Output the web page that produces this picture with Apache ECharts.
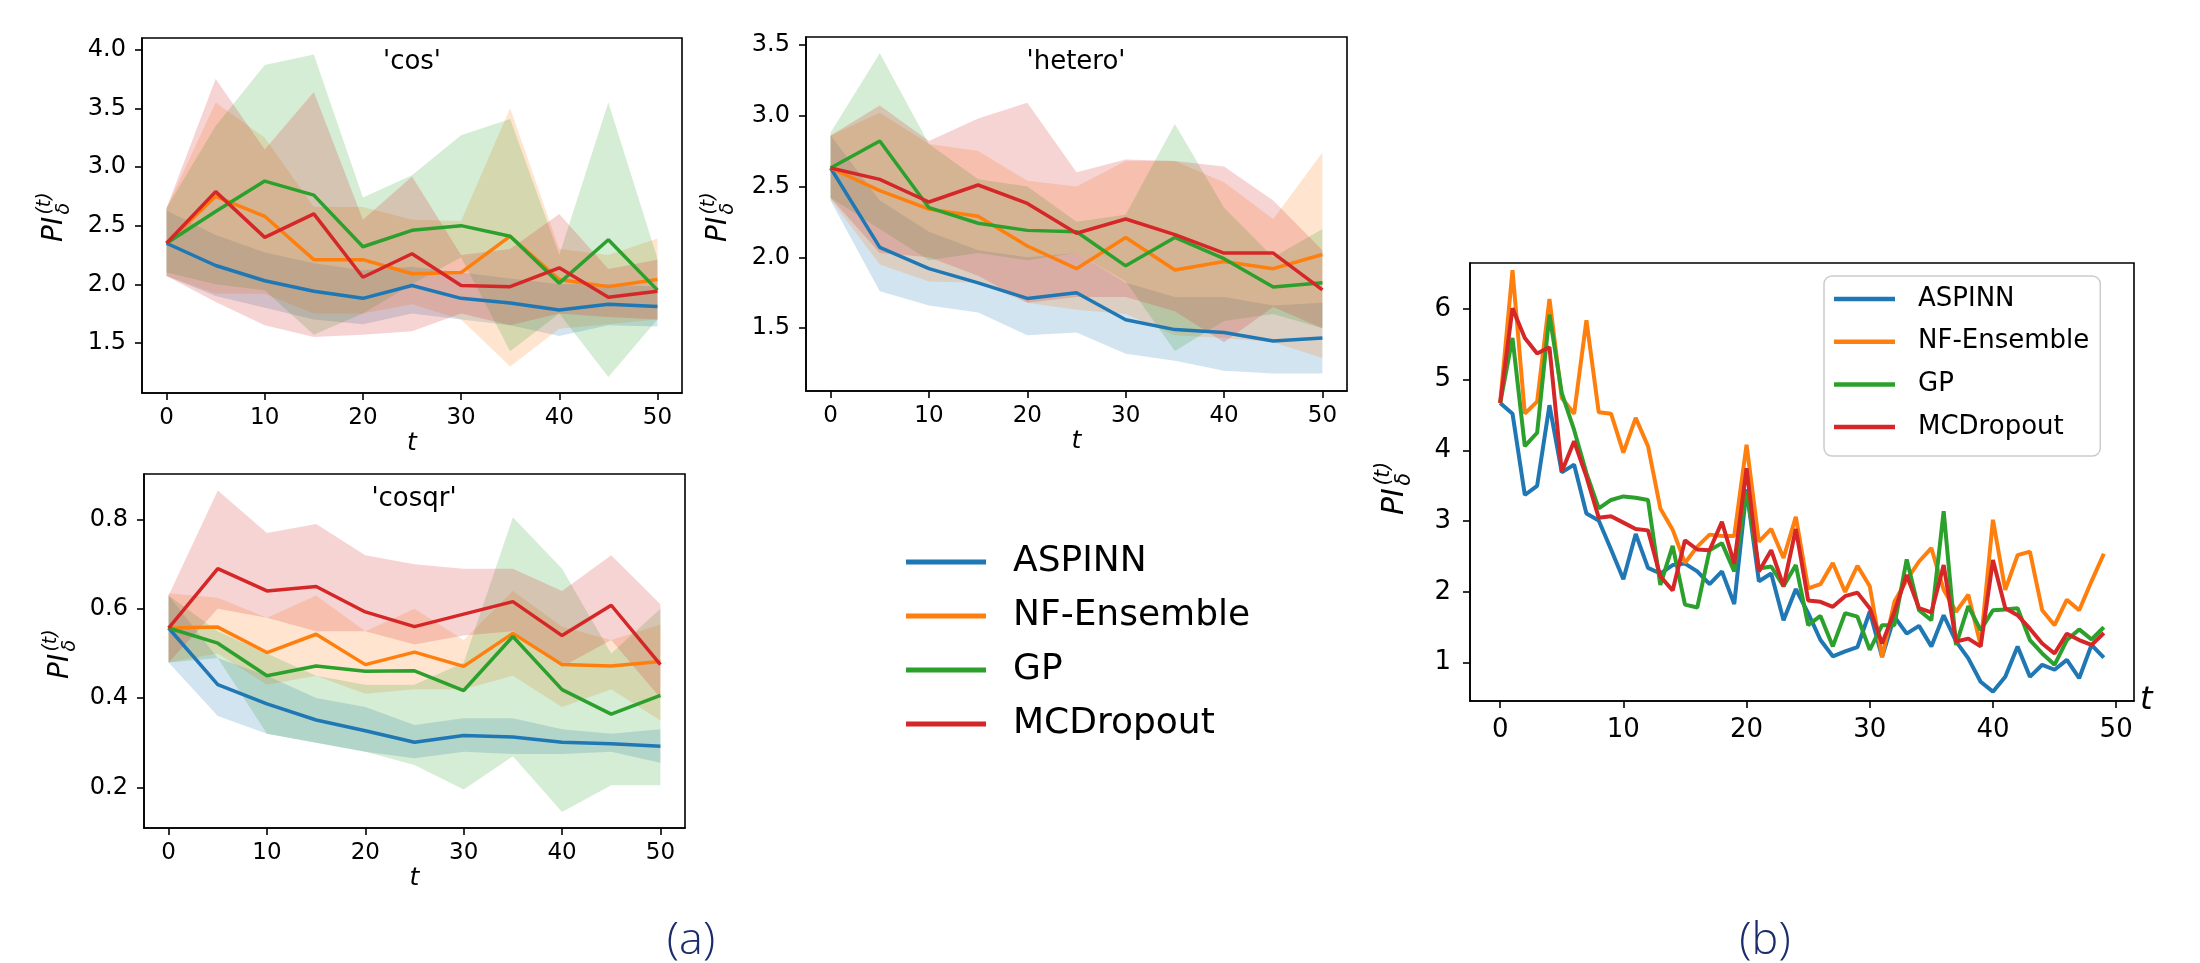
<!DOCTYPE html>
<html>
<head>
<meta charset="utf-8">
<script src="https://cdn.jsdelivr.net/npm/echarts@6.0.0/dist/echarts.min.js"></script>
<style>
  html, body { margin: 0; padding: 0; background: #fff; }
  #chart { width: 2200px; height: 963px; }
</style>
</head>
<body>
<div id="chart"></div>
<script>
// methods, in plotting order
const methods = ['ASPINN', 'NF-Ensemble', 'GP', 'MCDropout'];
const colors = ['#1f77b4', '#ff7f0e', '#2ca02c', '#d62728'];

// panel (a): t sampled every 5 steps
const tSteps = [0, 5, 10, 15, 20, 25, 30, 35, 40, 45, 50];
const tTicks = [0, 10, 20, 30, 40, 50];

// 'cos'  (rows follow methods)
const cosMean = [
  [2.35, 2.16, 2.03, 1.94, 1.88, 1.99, 1.88, 1.84, 1.78, 1.83, 1.81],
  [2.35, 2.75, 2.58, 2.21, 2.21, 2.09, 2.10, 2.41, 2.04, 1.98, 2.04],
  [2.35, 2.62, 2.88, 2.76, 2.32, 2.46, 2.50, 2.41, 2.01, 2.38, 1.95],
  [2.35, 2.79, 2.40, 2.60, 2.06, 2.26, 1.99, 1.98, 2.14, 1.89, 1.94]
];
const cosLower = [
  [2.07, 1.90, 1.80, 1.70, 1.66, 1.75, 1.70, 1.65, 1.56, 1.65, 1.64],
  [2.07, 1.92, 1.92, 1.75, 1.75, 1.83, 1.70, 1.30, 1.62, 1.66, 1.70],
  [2.10, 2.00, 1.95, 1.57, 1.75, 2.00, 2.23, 1.43, 1.75, 1.21, 1.70],
  [2.07, 1.85, 1.65, 1.55, 1.57, 1.60, 1.75, 1.65, 1.75, 1.72, 1.70]
];
const cosUpper = [
  [2.63, 2.42, 2.27, 2.18, 2.12, 2.15, 2.10, 2.05, 2.00, 2.00, 1.98],
  [2.65, 3.55, 3.25, 2.66, 2.66, 2.55, 2.54, 3.50, 2.30, 2.25, 2.39],
  [2.65, 3.35, 3.87, 3.96, 2.74, 2.93, 3.27, 3.41, 2.25, 3.55, 2.22],
  [2.65, 3.75, 3.15, 3.64, 2.55, 2.92, 2.25, 2.30, 2.60, 2.13, 2.21]
];
const cosTicks = [1.5, 2.0, 2.5, 3.0, 3.5, 4.0];

// 'hetero'
const heteroMean = [
  [2.63, 2.07, 1.92, 1.82, 1.71, 1.75, 1.56, 1.49, 1.47, 1.41, 1.43],
  [2.63, 2.47, 2.34, 2.29, 2.08, 1.92, 2.14, 1.91, 1.97, 1.92, 2.02],
  [2.63, 2.82, 2.35, 2.24, 2.19, 2.18, 1.94, 2.14, 1.99, 1.79, 1.82],
  [2.63, 2.55, 2.39, 2.51, 2.38, 2.17, 2.27, 2.16, 2.03, 2.03, 1.77]
];
const heteroLower = [
  [2.40, 1.76, 1.66, 1.61, 1.45, 1.47, 1.32, 1.27, 1.20, 1.18, 1.18],
  [2.41, 1.95, 1.83, 1.82, 1.68, 1.63, 1.60, 1.45, 1.43, 1.40, 1.29],
  [2.42, 2.20, 1.98, 2.03, 1.98, 2.03, 1.83, 1.34, 1.55, 1.60, 1.50],
  [2.42, 2.03, 2.00, 1.87, 1.68, 1.72, 1.72, 1.62, 1.40, 1.65, 1.50]
];
const heteroUpper = [
  [2.86, 2.40, 2.18, 2.05, 2.00, 2.03, 1.82, 1.72, 1.72, 1.66, 1.68],
  [2.86, 3.02, 2.80, 2.75, 2.54, 2.50, 2.68, 2.68, 2.53, 2.27, 2.74],
  [2.88, 3.44, 2.80, 2.55, 2.50, 2.25, 2.30, 2.94, 2.35, 2.00, 2.20],
  [2.86, 3.07, 2.82, 2.98, 3.09, 2.60, 2.69, 2.68, 2.64, 2.40, 2.05]
];
const heteroTicks = [1.5, 2.0, 2.5, 3.0, 3.5];

// 'cosqr'
const cosqrMean = [
  [0.557, 0.430, 0.387, 0.351, 0.327, 0.301, 0.316, 0.313, 0.301, 0.298, 0.292],
  [0.557, 0.559, 0.502, 0.543, 0.475, 0.503, 0.471, 0.545, 0.475, 0.472, 0.482],
  [0.557, 0.523, 0.450, 0.472, 0.460, 0.461, 0.417, 0.538, 0.419, 0.364, 0.406],
  [0.557, 0.690, 0.640, 0.650, 0.593, 0.560, 0.588, 0.616, 0.540, 0.608, 0.475]
];
const cosqrLower = [
  [0.48, 0.36, 0.32, 0.30, 0.28, 0.265, 0.28, 0.275, 0.275, 0.28, 0.255],
  [0.48, 0.50, 0.43, 0.45, 0.41, 0.42, 0.42, 0.45, 0.38, 0.42, 0.35],
  [0.48, 0.49, 0.32, 0.30, 0.28, 0.25, 0.195, 0.27, 0.145, 0.205, 0.205],
  [0.48, 0.60, 0.58, 0.55, 0.55, 0.52, 0.54, 0.55, 0.47, 0.53, 0.40]
];
const cosqrUpper = [
  [0.63, 0.49, 0.45, 0.40, 0.38, 0.34, 0.355, 0.355, 0.33, 0.32, 0.33],
  [0.635, 0.625, 0.58, 0.63, 0.55, 0.60, 0.53, 0.64, 0.56, 0.53, 0.565],
  [0.63, 0.55, 0.50, 0.45, 0.43, 0.43, 0.48, 0.805, 0.69, 0.50, 0.60],
  [0.63, 0.865, 0.77, 0.79, 0.72, 0.70, 0.69, 0.69, 0.64, 0.72, 0.61]
];
const cosqrTicks = [0.2, 0.4, 0.6, 0.8];

// panel (b): every step t = 0..49
const rtASPINN = [4.67, 4.52, 3.37, 3.50, 4.64, 3.69, 3.80, 3.11, 3.01, 2.60, 2.18, 2.82, 2.34,
  2.26, 2.38, 2.40, 2.29, 2.11, 2.29, 1.83, 3.45, 2.15, 2.26, 1.60, 2.04, 1.70, 1.32, 1.09, 1.16, 1.22, 1.72,
  1.08, 1.65, 1.41, 1.52, 1.23, 1.67, 1.30, 1.06, 0.73, 0.59, 0.80, 1.23, 0.80, 0.97, 0.90, 1.04, 0.78, 1.25, 1.07];
const rtNF = [4.67, 6.55, 4.52, 4.69, 6.14, 4.74, 4.52, 5.84, 4.54, 4.52, 3.97, 4.46, 4.06,
  3.18, 2.88, 2.41, 2.64, 2.81, 2.79, 2.79, 4.08, 2.71, 2.89, 2.48, 3.06, 2.05, 2.11, 2.41, 2.00, 2.37, 2.08,
  1.08, 1.86, 2.17, 2.43, 2.62, 2.03, 1.72, 1.96, 1.25, 3.02, 2.03, 2.52, 2.57, 1.74, 1.53, 1.89, 1.74, 2.15, 2.54];
const rtGP = [4.67, 5.59, 4.06, 4.25, 5.92, 4.81, 4.29, 3.68, 3.18, 3.30, 3.35, 3.33, 3.30,
  2.10, 2.65, 1.82, 1.78, 2.59, 2.69, 2.29, 3.42, 2.33, 2.36, 2.08, 2.38, 1.53, 1.66, 1.23, 1.70, 1.65, 1.18,
  1.53, 1.53, 2.46, 1.74, 1.60, 3.14, 1.25, 1.80, 1.46, 1.74, 1.75, 1.77, 1.32, 1.13, 0.97, 1.32, 1.47, 1.33, 1.50];
const rtMC = [4.67, 6.01, 5.59, 5.37, 5.46, 3.70, 4.13, 3.63, 3.05, 3.07, 2.98, 2.89, 2.87,
  2.22, 2.02, 2.73, 2.60, 2.59, 2.99, 2.40, 3.75, 2.29, 2.59, 2.08, 2.89, 1.88, 1.86, 1.79, 1.94, 1.99, 1.77,
  1.27, 1.72, 2.24, 1.77, 1.71, 2.38, 1.30, 1.34, 1.23, 2.45, 1.77, 1.67, 1.48, 1.27, 1.13, 1.41, 1.32, 1.25, 1.42];
const rtTicks = [1, 2, 3, 4, 5, 6];

const FONT = '"DejaVu Sans", sans-serif';

function axisX(gridIndex, min, max, fontSize, margin, name) {
  return {
    type: 'value', gridIndex, min, max,
    axisLine: { show: true, onZero: false, lineStyle: { color: '#000', width: 1.6 } },
    axisTick: { show: true, customValues: tTicks, length: 7, lineStyle: { color: '#000', width: 1.6 } },
    axisLabel: { customValues: tTicks, fontSize, color: '#000', fontFamily: FONT, margin },
    splitLine: { show: false },
    name: name, nameLocation: 'middle', nameGap: 34,
    nameTextStyle: { fontStyle: 'italic', fontSize: 25, color: '#000', fontFamily: FONT }
  };
}

function axisY(gridIndex, min, max, ticks, fontSize, margin, digits) {
  return {
    type: 'value', gridIndex, min, max,
    axisLine: { show: true, onZero: false, lineStyle: { color: '#000', width: 1.6 } },
    axisTick: { show: true, customValues: ticks, length: 7, lineStyle: { color: '#000', width: 1.6 } },
    axisLabel: {
      customValues: ticks, fontSize, color: '#000', fontFamily: FONT, margin,
      formatter: v => v.toFixed(digits)
    },
    splitLine: { show: false }
  };
}

// shaded band between lower and upper, drawn as one polygon through the axis scales
function bandSeries(idx, k, lower, upper) {
  const data = tSteps.map((t, i) => [t, lower[k][i], upper[k][i]]);
  return {
    name: 'band' + idx + '_' + k, type: 'custom', xAxisIndex: idx, yAxisIndex: idx,
    silent: true, z: 1,
    data,
    encode: { x: 0, y: [1, 2] },
    renderItem: (params, api) => {
      if (params.dataIndex !== 0) return null;
      const top = data.map(d => api.coord([d[0], d[2]]));
      const bottom = data.slice().reverse().map(d => api.coord([d[0], d[1]]));
      return {
        type: 'polygon',
        shape: { points: top.concat(bottom) },
        style: { fill: colors[k], opacity: 0.2 }
      };
    }
  };
}

function panelSeries(idx, mean, lower, upper) {
  const out = [];
  methods.forEach((m, k) => out.push(bandSeries(idx, k, lower, upper)));
  methods.forEach((m, k) => {
    out.push({
      name: m, type: 'line', xAxisIndex: idx, yAxisIndex: idx,
      data: tSteps.map((t, i) => [t, mean[k][i]]),
      symbol: 'none', z: 3,
      itemStyle: { color: colors[k] },
      lineStyle: { color: colors[k], width: 3.5 }
    });
  });
  return out;
}

function yLabel(cx, bottom, F) {
  return {
    type: 'group', x: cx, y: bottom, rotation: Math.PI / 2,
    children: [
      { type: 'text', x: 0, y: 0, style: { text: 'PI', fontSize: F, fontStyle: 'italic', fontFamily: FONT, fill: '#000', align: 'left', verticalAlign: 'middle' } },
      { type: 'text', x: 0.98 * F, y: -0.36 * F, style: { text: '(t)', fontSize: 0.68 * F, fontStyle: 'italic', fontFamily: FONT, fill: '#000', align: 'left', verticalAlign: 'middle' } },
      { type: 'text', x: 0.98 * F, y: 0.32 * F, style: { text: 'δ', fontSize: 0.68 * F, fontStyle: 'italic', fontFamily: FONT, fill: '#000', align: 'left', verticalAlign: 'middle' } }
    ]
  };
}

function title(text, cx, cy) {
  return { type: 'text', x: cx, y: cy, z: 10, style: { text, fontSize: 26, fontFamily: FONT, fill: '#000', align: 'center', verticalAlign: 'middle' } };
}

const rtSeries = [rtASPINN, rtNF, rtGP, rtMC].map((arr, k) => ({
  name: methods[k], type: 'line', xAxisIndex: 3, yAxisIndex: 3,
  data: arr.map((v, i) => [i, v]),
  symbol: 'none', z: 3,
  itemStyle: { color: colors[k] },
  lineStyle: { color: colors[k], width: 4 }
}));

const chart = echarts.init(document.getElementById('chart'), null, { renderer: 'canvas' });

const option = {
  backgroundColor: '#fff',
  animation: false,
  grid: [
    { left: 142, top: 38, width: 540, height: 355, show: true, borderColor: '#000', borderWidth: 1.6 },
    { left: 806, top: 37, width: 541, height: 354, show: true, borderColor: '#000', borderWidth: 1.6 },
    { left: 144, top: 474, width: 541, height: 354, show: true, borderColor: '#000', borderWidth: 1.6 },
    { left: 1470, top: 263, width: 664, height: 438, show: true, borderColor: '#000', borderWidth: 1.6 }
  ],
  xAxis: [
    axisX(0, -2.5, 52.5, 23, 14, 't'),
    axisX(1, -2.5, 52.5, 23, 14, 't'),
    axisX(2, -2.5, 52.5, 23, 14, 't'),
    Object.assign(axisX(3, -2.45, 51.45, 26, 16, 't'), {
      nameLocation: 'end', nameGap: 6,
      nameTextStyle: { fontStyle: 'italic', fontSize: 32, color: '#000', fontFamily: FONT, verticalAlign: 'middle' }
    })
  ],
  yAxis: [
    axisY(0, 1.073, 4.10, cosTicks, 24, 16, 1),
    axisY(1, 1.057, 3.554, heteroTicks, 24, 16, 1),
    axisY(2, 0.109, 0.902, cosqrTicks, 24, 16, 1),
    axisY(3, 0.458, 6.65, rtTicks, 26, 19, 0)
  ],
  legend: [
    {
      data: methods, orient: 'vertical', left: 906, top: 542, padding: 0,
      icon: 'rect', itemWidth: 80, itemHeight: 5, itemGap: 14,
      textStyle: { fontSize: 36, fontFamily: FONT, color: '#000', lineHeight: 40, padding: [0, 0, 0, 22] },
      selectedMode: false
    },
    {
      data: methods, orient: 'vertical', left: 1824, top: 276, padding: [6, 11, 12, 10],
      icon: 'rect', itemWidth: 61, itemHeight: 4.5, itemGap: 8.7,
      backgroundColor: 'rgba(255,255,255,0.8)', borderColor: '#cccccc', borderWidth: 1.5, borderRadius: 8,
      textStyle: { fontSize: 26, fontFamily: FONT, color: '#000', lineHeight: 34, padding: [0, 0, 0, 18] },
      selectedMode: false
    }
  ],
  graphic: [
    title("'cos'", 412, 62),
    title("'hetero'", 1076, 62),
    title("'cosqr'", 414, 499),
    yLabel(55, 242, 28),
    yLabel(719, 242, 28),
    yLabel(61, 679, 28),
    yLabel(1395, 515, 30),
    { type: 'text', x: 691, y: 919, style: { text: '(a)', fontSize: 45, fontWeight: 300, fontFamily: '"Open Sans", Lato, sans-serif', fill: '#1b2b6b', align: 'center', verticalAlign: 'top' } },
    { type: 'text', x: 1765, y: 919, style: { text: '(b)', fontSize: 45, fontWeight: 300, fontFamily: '"Open Sans", Lato, sans-serif', fill: '#1b2b6b', align: 'center', verticalAlign: 'top' } }
  ],
  series: [].concat(
    panelSeries(0, cosMean, cosLower, cosUpper),
    panelSeries(1, heteroMean, heteroLower, heteroUpper),
    panelSeries(2, cosqrMean, cosqrLower, cosqrUpper),
    rtSeries
  )
};

chart.setOption(option);
</script>
</body>
</html>
